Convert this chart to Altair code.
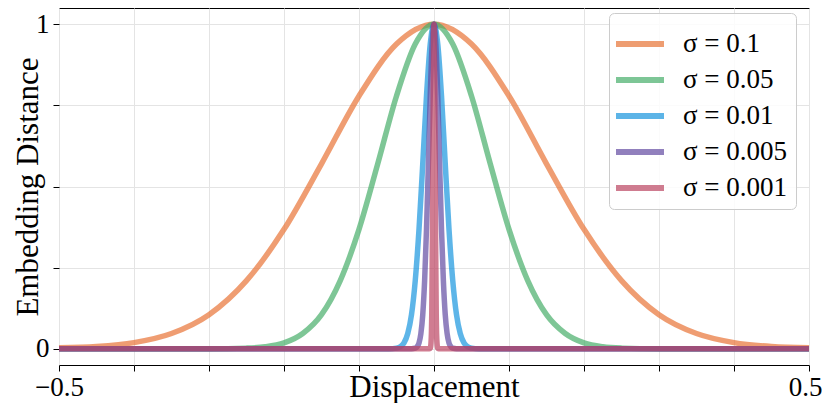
import altair as alt
import pandas as pd

labels = ["σ = 0.1", "σ = 0.05", "σ = 0.01", "σ = 0.005", "σ = 0.001"]
colors = ["#E87436", "#47AE6A", "#1895DE", "#634BA2", "#BC4562"]

orange_x = [-0.5, -0.45, -0.4, -0.35, -0.3, -0.25, -0.2, -0.15, -0.1, -0.05, 0.0,
            0.05, 0.1, 0.15, 0.2, 0.25, 0.3, 0.35, 0.4, 0.45, 0.5]
orange_y = [0.003, 0.007, 0.019, 0.047, 0.105, 0.21, 0.368, 0.57, 0.779, 0.939, 1.0,
            0.939, 0.779, 0.57, 0.368, 0.21, 0.105, 0.047, 0.019, 0.007, 0.003]

green_x = [-0.5, -0.3, -0.25, -0.225, -0.2, -0.175, -0.15, -0.125, -0.1, -0.075, -0.05, -0.025, 0.0,
           0.025, 0.05, 0.075, 0.1, 0.125, 0.15, 0.175, 0.2, 0.225, 0.25, 0.3, 0.5]
green_y = [0.0, 0.0, 0.002, 0.006, 0.018, 0.047, 0.105, 0.21, 0.368, 0.57, 0.779, 0.939, 1.0,
           0.939, 0.779, 0.57, 0.368, 0.21, 0.105, 0.047, 0.018, 0.006, 0.002, 0.0, 0.0]

blue_x = [-0.5, -0.06, -0.05, -0.045, -0.04, -0.035, -0.03, -0.025, -0.02, -0.015, -0.01, -0.005, 0.0,
          0.005, 0.01, 0.015, 0.02, 0.025, 0.03, 0.035, 0.04, 0.045, 0.05, 0.06, 0.5]
blue_y = [0.0, 0.0, 0.002, 0.006, 0.018, 0.047, 0.105, 0.21, 0.368, 0.57, 0.779, 0.939, 1.0,
          0.939, 0.779, 0.57, 0.368, 0.21, 0.105, 0.047, 0.018, 0.006, 0.002, 0.0, 0.0]

purple_x = [-0.5, -0.03, -0.025, -0.0225, -0.02, -0.0175, -0.015, -0.0125, -0.01, -0.0075, -0.005, -0.0025, 0.0,
            0.0025, 0.005, 0.0075, 0.01, 0.0125, 0.015, 0.0175, 0.02, 0.0225, 0.025, 0.03, 0.5]
purple_y = [0.0, 0.0, 0.002, 0.006, 0.018, 0.047, 0.105, 0.21, 0.368, 0.57, 0.779, 0.939, 1.0,
            0.939, 0.779, 0.57, 0.368, 0.21, 0.105, 0.047, 0.018, 0.006, 0.002, 0.0, 0.0]

pink_x = [-0.5, -0.006, -0.005, -0.004, -0.003, -0.002, -0.001, 0.0,
          0.001, 0.002, 0.003, 0.004, 0.005, 0.006, 0.5]
pink_y = [0.0, 0.0, 0.002, 0.018, 0.105, 0.368, 0.779, 1.0,
          0.779, 0.368, 0.105, 0.018, 0.002, 0.0, 0.0]

xs_all = [orange_x, green_x, blue_x, purple_x, pink_x]
ys_all = [orange_y, green_y, blue_y, purple_y, pink_y]

FONT = "Liberation Serif"

color_scale = alt.Scale(domain=labels, range=colors)
legend = alt.Legend(
    title=None, orient="none", legendX=550, legendY=5,
    symbolType="M-1.2,0H1.2", symbolSize=1600, symbolStrokeWidth=6,
    symbolFillColor="transparent",
    labelFont=FONT, labelFontSize=27, labelColor="black", labelOffset=20,
    rowPadding=-16, padding=8, strokeColor="#cccccc", cornerRadius=5,
    fillColor="rgba(255,255,255,0.85)",
)

x_axis = alt.Axis(
    values=[-0.5, -0.4, -0.3, -0.2, -0.1, 0.0, 0.1, 0.2, 0.3, 0.4, 0.5],
    labelExpr="datum.value <= -0.49 ? '\u22120.5' : (datum.value >= 0.49 ? '0.5' : '')",
    labelOffset={"expr": "datum.value >= 0.49 ? -4 : 0"},
    title="Displacement", titleY=31, titleBaseline="alphabetic",
    labelPadding=3, labelFlush=False,
)
y_axis = alt.Axis(
    values=[0, 0.25, 0.5, 0.75, 1.0],
    labelExpr="datum.value == 0 ? '0' : (datum.value == 1 ? '1' : '')",
    title="Embedding Distance", titleX=-22, titleBaseline="alphabetic",
    labelPadding=4,
)

layers = []
for lab, xs, ys in zip(labels, xs_all, ys_all):
    df = pd.DataFrame({"x": xs, "y": ys, "series": lab})
    layers.append(
        alt.Chart(df).mark_line(strokeWidth=5.5, opacity=0.7, interpolate="monotone").encode(
            x=alt.X("x:Q", scale=alt.Scale(domain=[-0.5, 0.5], nice=False, zero=False), axis=x_axis),
            y=alt.Y("y:Q", scale=alt.Scale(domain=[-0.05, 1.05], nice=False, zero=False), axis=y_axis),
            color=alt.Color("series:N", scale=color_scale, legend=legend),
        )
    )

chart = alt.layer(*layers).properties(
    width=750, height=357,
    padding={"left": 51, "top": 0, "right": 13, "bottom": 38},
    autosize=alt.AutoSizeParams(type="none"),
).configure_view(
    stroke="black", strokeWidth=1
).configure_axis(
    domain=False,
    grid=True, gridColor="#e4e4e4", gridWidth=1,
    ticks=True, tickColor="black", tickSize=6, tickWidth=1,
    labelFont=FONT, labelFontSize=27, labelColor="black",
    titleFont=FONT, titleFontSize=31, titleColor="black", titleFontWeight="normal",
)

chart.save("out.html", embed_options={"renderer": "svg", "actions": False})
